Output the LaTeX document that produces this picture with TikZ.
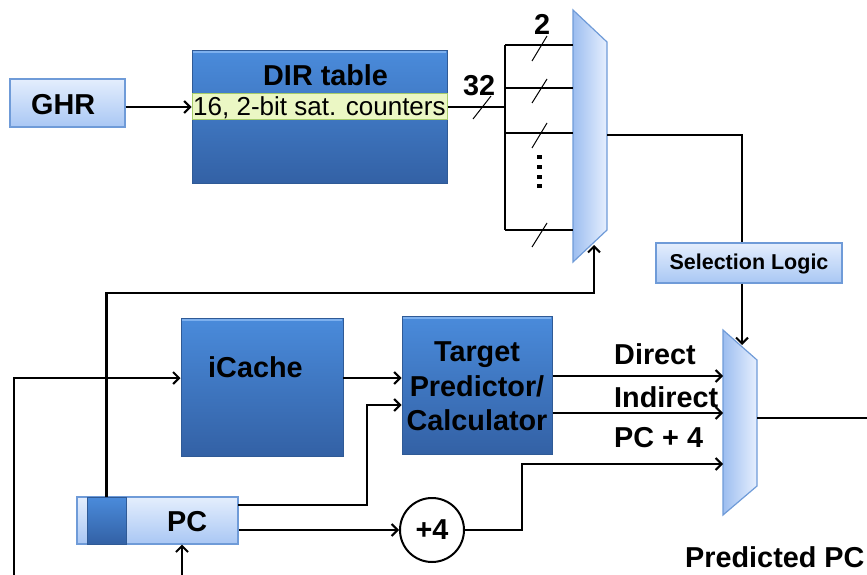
\documentclass[tikz,border=0pt]{standalone}
\usepackage{fontspec}
\setmainfont{Liberation Sans}
\usetikzlibrary{arrows.meta}

\definecolor{darktop}{HTML}{4A8BDB}
\definecolor{darkbot}{HTML}{3361A5}
\definecolor{darkedge}{HTML}{2F5A96}
\definecolor{darkhi}{HTML}{7DB0EE}
\definecolor{lighttop}{HTML}{E4EEFD}
\definecolor{lightbot}{HTML}{A9C7F4}
\definecolor{lightedge}{HTML}{6F9BD8}
\definecolor{stripfill}{HTML}{EBF7C4}
\definecolor{stripedge}{HTML}{A6CC6A}
\definecolor{muxleft}{HTML}{9DBEF0}
\definecolor{muxright}{HTML}{E6EFFE}

\tikzset{
  wire/.style={line width=2.2pt, black},
  arr/.style={wire, -{Straight Barb[length=6pt,width=12pt,line width=2pt]}},
  slashmark/.style={line width=1pt, black},
  lightbox/.style={draw=lightedge, line width=1.2pt, top color=lighttop, bottom color=lightbot, inner sep=0pt},
  darkbox/.style={draw=darkedge, line width=1pt, top color=darktop, bottom color=darkbot, inner sep=0pt},
  muxshape/.style={draw=lightedge, line width=1.2pt, left color=muxleft, right color=muxright},
  big/.style={font=\fontsize{28.8}{34}\selectfont\bfseries, inner sep=0pt},
  mid/.style={font=\fontsize{26}{30}\selectfont, inner sep=0pt},
  small/.style={font=\fontsize{21.5}{26}\selectfont\bfseries, inner sep=0pt},
}

\begin{document}
\begin{tikzpicture}[x=1pt,y=-1pt]
\useasboundingbox (0,0) rectangle (867,575);

% ---------- direction table path ----------
\node[lightbox, minimum width=115pt, minimum height=48pt] (ghr) at (67.5,103) {};
\node[big, anchor=base west] (ghrtxt) at (31,115) {GHR};

\node[darkbox, minimum width=255pt, minimum height=132pt] (dir) at (319.5,117) {};
\draw[darkhi, line width=2pt] (dir.north west) ++(1,2) -- ++(253,0);
\node[big, anchor=base west] (dirtxt) at (263,86) {DIR table};
\node[draw=stripedge, line width=1pt, fill=stripfill, minimum width=255pt, minimum height=26pt, inner sep=0pt] (strip) at (319.5,107) {};
\node[mid, anchor=base west] (striptxt) at (193,116) {16, 2-bit sat. counters};

\draw[arr] (ghr.east |- strip.west) -- (strip.west);

% first multiplexer
\path[muxshape] (573,10) -- (607,42) -- (607,230) -- (573,262) -- cycle;
\coordinate (m1a) at (573,45);
\coordinate (m1b) at (573,88);
\coordinate (m1c) at (573,133);
\coordinate (m1d) at (573,230);
\coordinate (m1out) at (607,135);
\coordinate (m1sel) at (594,245);

\coordinate (busa) at (505,45);
\coordinate (busb) at (505,88);
\coordinate (busc) at (505,133);
\coordinate (busd) at (505,230);
\coordinate (busin) at (505,107);

\draw[wire] (strip.east) -- (busin);
\draw[wire] (busa) -- (busd);
\draw[wire] (busa) -- (m1a);
\draw[wire] (busb) -- (m1b);
\draw[wire] (busc) -- (m1c);
\draw[wire] (busd) -- (m1d);

% bus-width slashes
\draw[slashmark] (473,119) -- (491,96);
\draw[slashmark] (532,61) -- (547,36);
\draw[slashmark] (532,103) -- (547,79);
\draw[slashmark] (532,148) -- (547,123);
\draw[slashmark] (532,247) -- (547,223);
\node[big, anchor=base west] (w32) at (463,96) {32};
\node[big, anchor=base west] (w2) at (534,35) {2};
\foreach \yy in {157,167,177,186}
  \fill (537,\yy-2.2) rectangle ++(4.5,4.5);

% selection logic
\node[lightbox, minimum width=186pt, minimum height=40pt] (sel) at (749,263) {};
\node[small] (seltxt) at (749,264) {Selection Logic};
\coordinate (m1corner) at (742,135);
\draw[wire] (m1out) -- (m1corner) -- (sel.north -| m1corner);

% second multiplexer
\path[muxshape] (723,330) -- (757,360) -- (757,486) -- (723,515) -- cycle;
\coordinate (m2sel) at (742,345);
\coordinate (m2a) at (723,376);
\coordinate (m2b) at (723,413);
\coordinate (m2c) at (723,464);
\coordinate (m2out) at (757,418);
\coordinate (predend) at (867,418);
\draw[arr] (sel.south -| m2sel) -- (m2sel);
\draw[wire] (m2out) -- (predend);

% ---------- fetch path ----------
\node[darkbox, minimum width=162pt, minimum height=138pt] (icache) at (262,387) {};
\draw[darkhi, line width=2pt] (icache.north west) ++(1,2) -- ++(160,0);
\node[big, anchor=base west] (icachetxt) at (208,377) {iCache};

\node[darkbox, minimum width=150pt, minimum height=138pt] (tp) at (477,385) {};
\draw[darkhi, line width=2pt] (tp.north west) ++(1,2) -- ++(148,0);
\node[big, anchor=base] (tp1) at (477,361) {Target};
\node[big, anchor=base] (tp2) at (477,396) {Predictor/};
\node[big, anchor=base] (tp3) at (477,430) {Calculator};

\node[lightbox, minimum width=161pt, minimum height=47pt] (pc) at (157.5,520.5) {};
\node[draw=darkedge, line width=1pt, top color=darktop, bottom color=darkbot, minimum width=39pt, minimum height=47pt, inner sep=0pt] (pcreg) at (106.5,520.5) {};
\node[big, anchor=base west] (pctxt) at (167,531) {PC};

\node[draw, circle, line width=2pt, minimum size=64pt, inner sep=0pt, font=\fontsize{28.8}{34}\selectfont\bfseries] (plus) at (432,530) {+4};

% wires of the fetch path
\coordinate (left0) at (14,575);
\coordinate (left1) at (14,378);
\draw[arr] (left0) -- (left1) -- (left1 -| icache.west);

\coordinate (ic1) at (343,378);
\draw[arr] (ic1) -- (ic1 -| tp.west);

\coordinate (pcup) at (594,293);
\draw[arr] (pcreg.north) -- (pcreg.north |- pcup) -- (pcup) -- (m1sel);

\coordinate (pcr1) at (238,505);
\coordinate (pcbend) at (367,505);
\coordinate (pcbend2) at (367,405);
\draw[arr] (pcr1) -- (pcbend) -- (pcbend2) -- (pcbend2 -| tp.west);

\draw[arr] (pc.east |- plus.west) -- (plus.west);

\coordinate (pcin) at (182,575);
\draw[arr] (pcin) -- (pcin |- pc.south);

\draw[arr] (tp.east |- m2a) -- (m2a);
\draw[arr] (tp.east |- m2b) -- (m2b);
\coordinate (p4a) at (522,530);
\coordinate (p4b) at (522,464);
\draw[arr] (plus.east) -- (p4a) -- (p4b) -- (m2c);

\node[big, anchor=base west] (ldirect) at (614,364) {Direct};
\node[big, anchor=base west] (lindirect) at (614,407) {Indirect};
\node[big, anchor=base west] (lpc4) at (614,447) {PC + 4};
\node[big, anchor=base west] (lpred) at (685,567) {Predicted PC};
\end{tikzpicture}
\end{document}
